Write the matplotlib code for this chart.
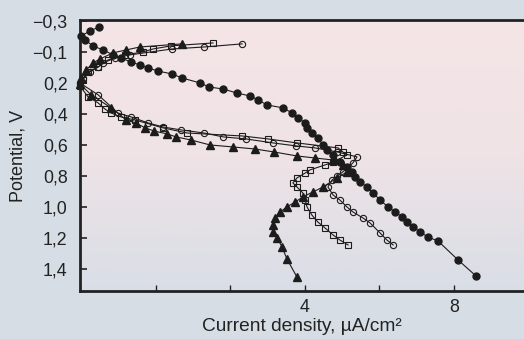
import numpy as np
import matplotlib
matplotlib.use("Agg")
import matplotlib.pyplot as plt
from matplotlib.colors import LinearSegmentedColormap

plt.rcParams['font.family'] = ['Liberation Sans', 'DejaVu Sans']

# Filled circles
fc_x = [-1.52, -1.76, -2.00, -1.89, -1.68, -1.41, -1.14, -0.93, -0.66, -0.42, -0.20, 0.06, 0.44, 0.71,
        1.19, 1.43, 1.81, 2.18, 2.53, 2.75, 2.99, 3.42, 3.66, 3.82, 4.01, 4.06, 4.19, 4.35, 4.49, 4.60,
        4.76, 4.94, 5.13, 5.27, 5.35, 5.48, 5.67, 5.83, 6.02, 6.23, 6.42, 6.61, 6.74, 6.90, 7.09, 7.30,
        7.57, 8.11, 8.59]
fc_y = [-0.161, -0.135, -0.103, -0.077, -0.039, -0.013, 0.019, 0.039, 0.065, 0.084, 0.103, 0.123, 0.142, 0.168,
        0.200, 0.226, 0.239, 0.265, 0.284, 0.310, 0.342, 0.361, 0.394, 0.426, 0.458, 0.490, 0.523, 0.555, 0.600, 0.632,
        0.665, 0.710, 0.742, 0.774, 0.806, 0.839, 0.871, 0.910, 0.955, 1.000, 1.032, 1.065, 1.097, 1.129, 1.161, 1.194,
        1.219, 1.342, 1.445]

# Open circles
oc_x = [2.32, 1.30, 0.44, -0.69, -1.09, -1.41, -1.54, -1.76, -1.95, -2.03,
        -1.54, -1.01, -0.66, -0.20, 0.20, 0.68, 1.30, 1.81, 2.42, 3.15, 3.76, 4.27, 4.87, 5.40,
        5.29, 5.02, 4.87, 4.73, 4.62, 4.76, 4.94, 5.13, 5.29, 5.56, 5.75, 6.02, 6.20, 6.37]
oc_y = [-0.052, -0.032, -0.019, 0.019, 0.039, 0.071, 0.097, 0.129, 0.168, 0.200,
        0.277, 0.394, 0.419, 0.458, 0.484, 0.503, 0.523, 0.548, 0.561, 0.587, 0.606, 0.619, 0.645, 0.677,
        0.716, 0.774, 0.800, 0.826, 0.871, 0.923, 0.955, 1.000, 1.032, 1.071, 1.103, 1.168, 1.213, 1.245]

# Open squares
sq_x = [1.54, 0.41, -0.07, -0.34, -0.82, -1.28, -1.54, -1.81, -1.95, -2.03,
        -1.81, -1.54, -1.36, -1.19, -0.93, -0.55, 0.20, 0.85, 2.32, 3.01, 3.79, 4.89, 5.02, 5.13,
        4.76, 4.54, 4.14, 4.01, 3.79, 3.68, 3.79, 3.95, 4.01, 4.06, 4.19, 4.35, 4.54, 4.76, 4.94, 5.16]
sq_y = [-0.058, -0.039, -0.019, 0.000, 0.019, 0.052, 0.097, 0.129, 0.181, 0.219,
        0.290, 0.329, 0.368, 0.394, 0.419, 0.439, 0.490, 0.523, 0.542, 0.561, 0.587, 0.619, 0.645, 0.665,
        0.710, 0.729, 0.761, 0.781, 0.813, 0.845, 0.871, 0.910, 0.955, 1.000, 1.052, 1.097, 1.135, 1.181, 1.213, 1.245]

# Filled triangles
tr_x = [0.71, -0.42, -0.79, -1.14, -1.49, -1.68, -1.86, -2.00, -2.03,
        -1.73, -1.19, -0.79, -0.53, -0.28, -0.04, 0.31, 0.55, 0.95, 1.46, 2.08, 2.66, 3.17, 3.79, 4.27, 4.76, 5.02, 5.13,
        4.86, 4.49, 4.22, 3.95, 3.74, 3.52, 3.34, 3.20, 3.15, 3.15, 3.26, 3.39, 3.52, 3.79]
tr_y = [-0.052, -0.032, -0.013, 0.006, 0.045, 0.071, 0.116, 0.168, 0.206,
        0.277, 0.361, 0.439, 0.458, 0.490, 0.510, 0.529, 0.548, 0.568, 0.600, 0.613, 0.626, 0.645, 0.671, 0.684, 0.697, 0.729, 0.774,
        0.813, 0.871, 0.903, 0.935, 0.968, 1.000, 1.032, 1.071, 1.116, 1.161, 1.200, 1.258, 1.335, 1.452]

ytick_pos = [-0.2, 0.0, 0.2, 0.4, 0.6, 0.8, 1.0, 1.2, 1.4]
ytick_labels = ["\u22120,3", "\u22120,1", "0,2", "0,4", "0,6", "0,8", "1,0", "1,2", "1,4"]
xtick_pos = [0, 2, 4, 6, 8]
xtick_labels = ["", "", "4", "", "8"]

fig = plt.figure(figsize=(5.24, 3.39), dpi=100)
fig.patch.set_facecolor('#d6dde5')
ax = fig.add_axes([80/524, 48/339, 444/524, 271/339])
ax.set_facecolor('none')

xl = (-2.027, 9.877)
yl = (1.542, -0.206)
cmap = LinearSegmentedColormap.from_list('bg', ['#f5e5e6', '#efe3e6', '#d9dee6'])
grad = np.linspace(0, 1, 256).reshape(-1, 1)
ax.imshow(grad, cmap=cmap, aspect='auto', extent=[xl[0], xl[1], yl[0], yl[1]], origin='upper', zorder=0)

col = '#1c1c1c'
lw = 0.8
ax.plot(tr_x, tr_y, '-', color=col, lw=lw, marker='^', ms=5.2, mfc=col, mec=col, clip_on=False, zorder=3)
ax.plot(sq_x, sq_y, '-', color=col, lw=lw, marker='s', ms=4.5, mfc='none', mec=col, mew=0.8, clip_on=False, zorder=3)
ax.plot(oc_x, oc_y, '-', color=col, lw=lw, marker='o', ms=4.5, mfc='none', mec=col, mew=0.8, clip_on=False, zorder=3)
ax.plot(fc_x, fc_y, '-', color=col, lw=lw, marker='o', ms=5, mfc=col, mec=col, clip_on=False, zorder=3)

ax.set_xlim(*xl)
ax.set_ylim(*yl)
ax.set_yticks(ytick_pos)
ax.set_yticklabels(ytick_labels)
ax.set_xticks(xtick_pos)
ax.set_xticklabels(xtick_labels)
ax.tick_params(axis='y', direction='in', length=5, width=1.2, pad=9, labelsize=12.8, colors='#222222')
ax.tick_params(axis='x', direction='in', length=4, width=1.0, pad=6, labelsize=12.8, colors='#222222')

for s in ['left', 'bottom', 'top']:
    ax.spines[s].set_linewidth(2)
    ax.spines[s].set_color('#222222')
ax.spines['right'].set_visible(False)

ax.set_xlabel("Current density, \u00b5A/cm\u00b2", fontsize=13.8, color='#222222', labelpad=1)
ax.set_ylabel("Potential, V", fontsize=13, color='#222222', labelpad=4)

fig.savefig('out.png', dpi=100, facecolor=fig.get_facecolor())
